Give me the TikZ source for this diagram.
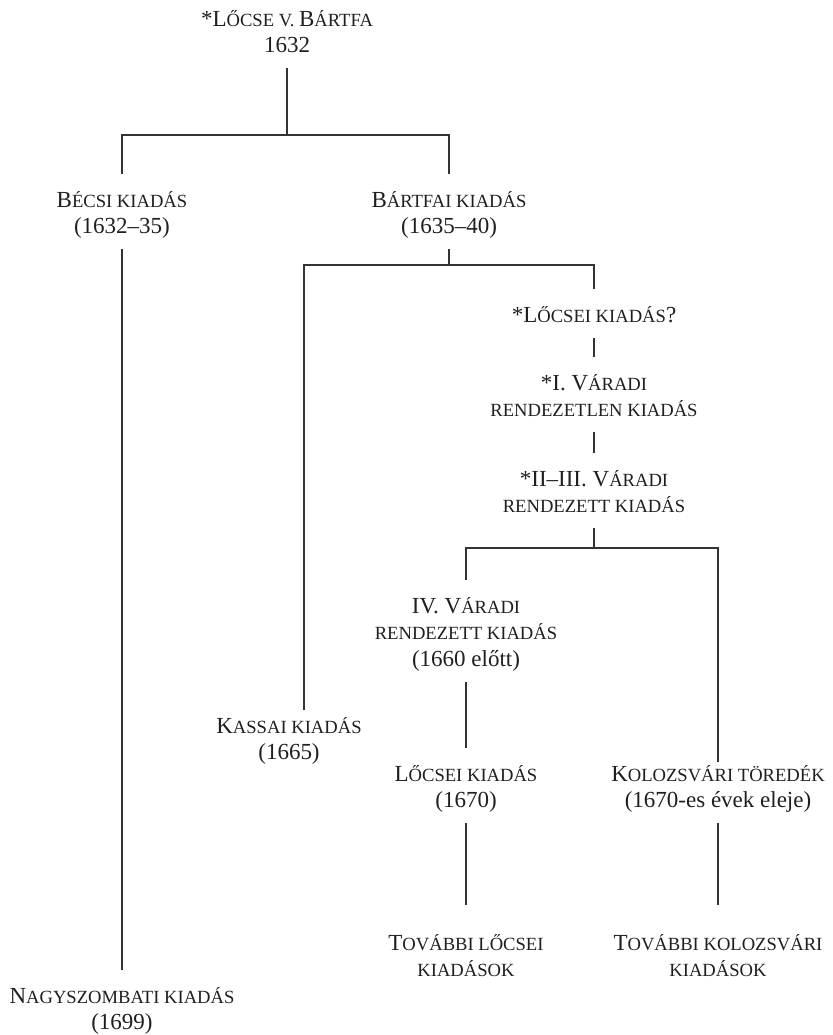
\documentclass[tikz,border=0pt]{standalone}
\usepackage{fontspec}
\setmainfont{Liberation Serif}
% small capitals built from scaled capitals
\newcommand\sm[1]{{\fontsize{9.3pt}{13.25pt}\selectfont #1}}
% invisible struts that fix the space above the first and below the last line
\newcommand\tst{\rule{0pt}{16.5pt}}
\newcommand\bst{\rule[-7.5pt]{0pt}{0pt}}
\begin{document}
\begin{tikzpicture}[x=0.5pt,y=-0.5pt,
  lbl/.style={align=center, inner sep=0pt, anchor=north, text=black!88,
    font=\fontsize{11.5pt}{13.25pt}\selectfont},
  link/.style={draw=black!80, line width=0.7pt}]
\useasboundingbox (0,0) rectangle (832,1035);

% editions
\node[lbl] (top)    at (287,-7)  {\tst*L\sm{ŐCSE V. }B\sm{ÁRTFA}\\1632\bst};
\node[lbl] (becsi)  at (122,174) {\tst B\sm{ÉCSI KIADÁS}\\(1632–35)\bst};
\node[lbl] (bartfa) at (449,174) {\tst B\sm{ÁRTFAI KIADÁS}\\(1635–40)\bst};
\node[lbl] (locsq)  at (594,289) {\tst*L\sm{ŐCSEI KIADÁS}?\bst};
\node[lbl] (var1)   at (594,357) {\tst*I. V\sm{ÁRADI}\\\sm{RENDEZETLEN KIADÁS}\bst};
\node[lbl] (var23)  at (594,453) {\tst*II–III. V\sm{ÁRADI}\\\sm{RENDEZETT KIADÁS}\bst};
\node[lbl] (var4)   at (466,580) {\tst IV. V\sm{ÁRADI}\\\sm{RENDEZETT KIADÁS}\\(1660 előtt)\bst};
\node[lbl] (kassa)  at (289,700) {\tst K\sm{ASSAI KIADÁS}\\(1665)\bst};
\node[lbl] (locse)  at (466,748) {\tst L\sm{ŐCSEI KIADÁS}\\(1670)\bst};
\node[lbl] (kolozs) at (718,748) {\tst K\sm{OLOZSVÁRI TÖREDÉK}\\(1670-es évek eleje)\bst};
\node[lbl] (tovl)   at (466,917) {\tst T\sm{OVÁBBI LŐCSEI}\\\sm{KIADÁSOK}\bst};
\node[lbl] (tovk)   at (718,917) {\tst T\sm{OVÁBBI KOLOZSVÁRI}\\\sm{KIADÁSOK}\bst};
\node[lbl] (nagy)   at (122,970) {\tst N\sm{AGYSZOMBATI KIADÁS}\\(1699)\bst};

% branching points
\coordinate (jA) at (287,135);
\coordinate (jB) at (449,265);
\coordinate (jC) at (594,548);

% stemma lines
\draw[link] (top.south) -- (jA);
\draw[link] (becsi.north) |- (jA) -| (bartfa.north);
\draw[link] (becsi.south) -- (nagy.north);
\draw[link] (bartfa.south) -- (jB);
\draw[link, shorten <=-5pt] ([xshift=7.5pt]kassa.north) |- (jB);
\draw[link] (jB) -| (locsq.north);
\draw[link] (locsq.south) -- (var1.north);
\draw[link] (var1.south) -- (var23.north);
\draw[link] (var23.south) -- (jC);
\draw[link] (var4.north) |- (jC);
\draw[link, shorten >=-7pt] (jC) -| (kolozs.north);
\draw[link] (var4.south) -- (locse.north);
\draw[link, shorten >=6pt] (locse.south) -- (tovl.north);
\draw[link, shorten >=6pt] (kolozs.south) -- (tovk.north);
\end{tikzpicture}
\end{document}
